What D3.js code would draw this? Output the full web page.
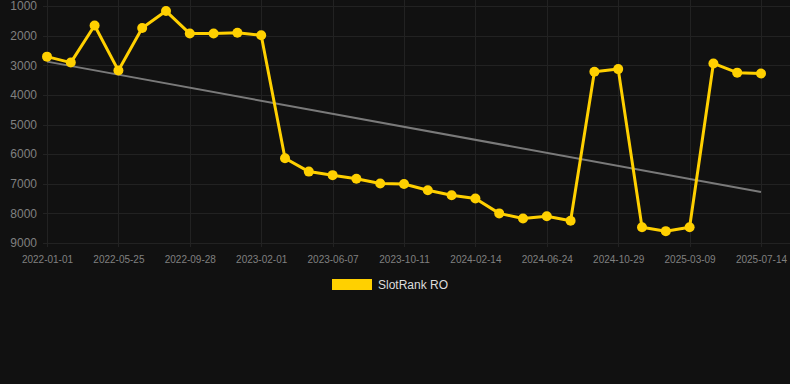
<!DOCTYPE html>
<html>
<head>
<meta charset="utf-8">
<script src="https://cdn.jsdelivr.net/npm/d3@7"></script>
<style>
  html, body { margin: 0; padding: 0; background: #111111; }
  svg { display: block; font-family: Arial, "Liberation Sans", Helvetica, sans-serif; }
</style>
</head>
<body>
<div id="chart"></div>
<script>
// Dates of each rank sample (only every third one is labelled on the axis)
const dates = [
    "2022-01-01", "2022-02-12", "2022-04-07", "2022-05-25", "2022-07-05", "2022-08-16",
    "2022-09-28", "2022-11-08", "2022-12-20", "2023-02-01", "2023-03-14", "2023-04-25",
    "2023-06-07", "2023-07-18", "2023-08-29", "2023-10-11", "2023-11-21", "2024-01-02",
    "2024-02-14", "2024-03-26", "2024-05-13", "2024-06-24", "2024-08-04", "2024-09-17",
    "2024-10-29", "2024-12-09", "2025-01-25", "2025-03-09", "2025-04-21", "2025-06-02",
    "2025-07-14"
];

// SlotRank RO values (rank, lower is better)
const ranks = [
    2710, 2910, 1660, 3180, 1740, 1170, 1930, 1930, 1900, 1990,
    6140, 6590, 6710, 6830, 6990, 7010, 7220, 7390, 7500, 8000,
    8170, 8100, 8250, 3220, 3130, 8470, 8600, 8470, 2940, 3250,
    3280
];

const yTicks = [1000, 2000, 3000, 4000, 5000, 6000, 7000, 8000, 9000];
const seriesName = "SlotRank RO";

const W = 790, H = 384;
const margin = {left: 47, right: 29, top: 6, bottom: 141};
const plotW = W - margin.left - margin.right;
const plotH = H - margin.top - margin.bottom;

const svg = d3.select("#chart").append("svg")
    .attr("width", W)
    .attr("height", H);

const x = d3.scalePoint()
    .domain(dates)
    .range([margin.left, margin.left + plotW]);

const y = d3.scaleLinear()
    .domain([1000, 9000])
    .range([margin.top, margin.top + plotH]);

const labelled = dates.filter((d, i) => i % 3 === 0);

// Grid lines
const grid = svg.append("g");
grid.selectAll(".hg")
    .data(yTicks)
    .enter()
    .append("line")
    .attr("x1", margin.left - 4)
    .attr("x2", W)
    .attr("y1", d => Math.round(y(d)) + 0.5)
    .attr("y2", d => Math.round(y(d)) + 0.5)
    .attr("stroke", "#222222")
    .attr("stroke-width", 1);

grid.selectAll(".vg")
    .data(labelled)
    .enter()
    .append("line")
    .attr("x1", d => Math.round(x(d)) + 0.5)
    .attr("x2", d => Math.round(x(d)) + 0.5)
    .attr("y1", 0)
    .attr("y2", margin.top + plotH + 4)
    .attr("stroke", "#222222")
    .attr("stroke-width", 1);

// Y axis labels
const yAxis = svg.append("g")
    .attr("transform", `translate(${margin.left - 10},0)`)
    .call(d3.axisLeft(y).tickValues(yTicks).tickSize(0).tickFormat(d3.format("d")));
yAxis.select(".domain").remove();
yAxis.selectAll("text")
    .attr("x", 0)
    .attr("fill", "#808080")
    .style("font-size", "12px")
    .style("font-family", "Arial, 'Liberation Sans', sans-serif");

// X axis labels
const xAxis = svg.append("g")
    .attr("transform", `translate(0,${margin.top + plotH + 10})`)
    .call(d3.axisBottom(x).tickValues(labelled).tickSize(0));
xAxis.select(".domain").remove();
xAxis.selectAll("text")
    .attr("fill", "#808080")
    .style("font-size", "10px")
    .style("font-family", "Arial, 'Liberation Sans', sans-serif");

// Linear trend through the series
const n = ranks.length;
const meanI = d3.mean(ranks, (d, i) => i);
const meanV = d3.mean(ranks);
const sxy = d3.sum(ranks, (d, i) => (i - meanI) * (d - meanV));
const sxx = d3.sum(ranks, (d, i) => (i - meanI) * (i - meanI));
const slope = sxy / sxx;
const intercept = meanV - slope * meanI;

svg.append("line")
    .attr("x1", x(dates[0]))
    .attr("y1", y(intercept))
    .attr("x2", x(dates[n - 1]))
    .attr("y2", y(intercept + slope * (n - 1)))
    .attr("stroke", "#7a7a7a")
    .attr("stroke-width", 2);

// Main line
const line = d3.line()
    .x((d, i) => x(dates[i]))
    .y(d => y(d));

svg.append("path")
    .datum(ranks)
    .attr("d", line)
    .attr("fill", "none")
    .attr("stroke", "#FFD000")
    .attr("stroke-width", 3)
    .attr("stroke-linejoin", "round");

svg.selectAll(".pt")
    .data(ranks)
    .enter()
    .append("circle")
    .attr("cx", (d, i) => x(dates[i]))
    .attr("cy", d => y(d))
    .attr("r", 5)
    .attr("fill", "#FFD000");

// Legend
const legend = svg.append("g")
    .attr("transform", "translate(332,279)");
legend.append("rect")
    .attr("width", 40)
    .attr("height", 11)
    .attr("fill", "#FFD000");
legend.append("text")
    .attr("x", 46)
    .attr("y", 10)
    .attr("fill", "#dddddd")
    .style("font-size", "12px")
    .text(seriesName);
</script>
</body>
</html>
